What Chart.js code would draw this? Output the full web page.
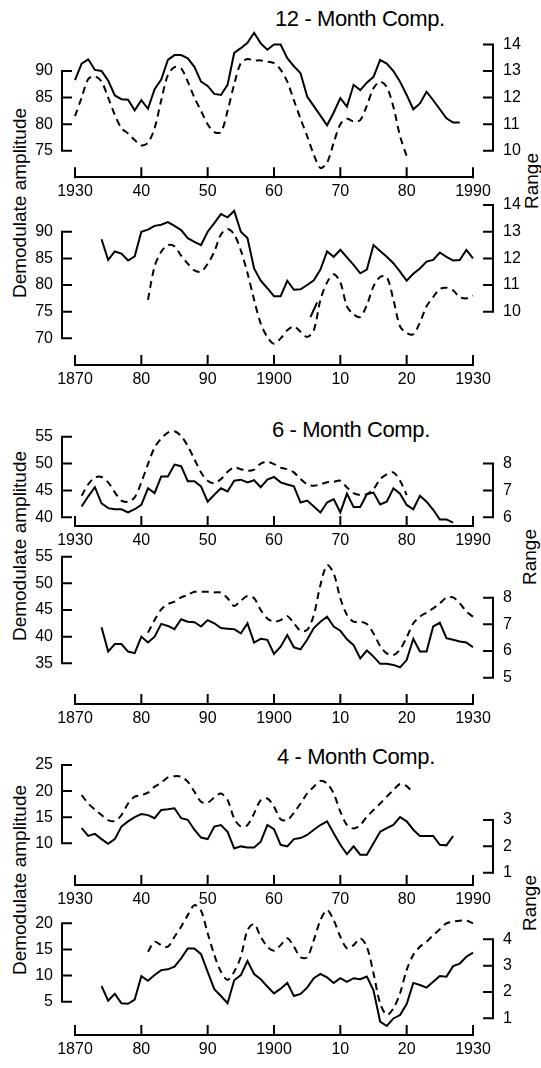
<!DOCTYPE html>
<html lang="en">
<head>
<meta charset="UTF-8">
<title>Demodulate amplitude and range</title>
<script src="https://cdn.jsdelivr.net/npm/chart.js"></script>
<style>
  body { margin: 0; background: #fff; width: 541px; height: 1068px; position: relative; overflow: hidden;
         font-family: 'Liberation Sans', Arial, sans-serif; color: #000; }
  canvas { position: absolute; left: 0; }
  .titulo { position: absolute; font-size: 22px; line-height: 22px; letter-spacing: -0.4px; white-space: nowrap; }
  .rot { position: absolute; font-size: 19px; line-height: 19px; white-space: nowrap;
         transform: translate(-50%, -50%) rotate(-90deg); }
</style>
</head>
<body>

<div class="titulo" style="left:275px; top:8px">12 - Month Comp.</div>
<div class="titulo" style="left:272px; top:419px">6 - Month Comp.</div>
<div class="titulo" style="left:277px; top:746px">4 - Month Comp.</div>

<div class="rot" style="left:19px; top:203px">Demodulate amplitude</div>
<div class="rot" style="left:19px; top:546px">Demodulate amplitude</div>
<div class="rot" style="left:19px; top:880px">Demodulate amplitude</div>
<div class="rot" style="left:531px; top:181px">Range</div>
<div class="rot" style="left:529px; top:557px">Range</div>
<div class="rot" style="left:529px; top:903px">Range</div>

<canvas id="p1" width="541" height="205" style="top:0px"></canvas>
<canvas id="p2" width="541" height="215" style="top:180px"></canvas>
<canvas id="p3" width="541" height="145" style="top:410px"></canvas>
<canvas id="p4" width="541" height="200" style="top:535px"></canvas>
<canvas id="p5" width="541" height="170" style="top:745px"></canvas>
<canvas id="p6" width="541" height="188" style="top:880px"></canvas>

<script>
// x axis ticks
const xTicksA = [1930, 1940, 1950, 1960, 1970, 1980, 1990];
const xLabelsA = ['1930', '40', '50', '60', '70', '80', '1990'];
const xTicksB = [1870, 1880, 1890, 1900, 1910, 1920, 1930];
const xLabelsB = ['1870', '80', '90', '1900', '10', '20', '1930'];

// 12-month component, 1930-1988 (solid, amplitude) and 1930-1980 (dashed, range)
const amp12a = [88.3, 91.4, 92.2, 90.2, 90.0, 88.2, 85.4, 84.7, 84.6, 82.6, 84.5, 82.9, 86.6, 88.4, 92.1,
  93.0, 93.0, 92.4, 90.8, 88.0, 87.2, 85.7, 85.5, 87.4, 93.4, 94.3, 95.3, 97.2, 95.2, 94.0, 95.0, 95.0,
  92.4, 90.9, 89.6, 85.2, 83.4, 81.6, 79.8, 82.2, 84.9, 83.3, 87.4, 86.4, 87.8, 88.9, 92.1, 91.4, 90.0,
  88.0, 85.5, 82.8, 83.9, 86.1, 84.5, 82.8, 81.1, 80.3, 80.3];
const rng12a = [11.3, 12.0, 12.7, 12.8, 12.6, 12.0, 11.35, 10.85, 10.65, 10.4, 10.2, 10.3, 10.85, 11.9,
  12.85, 13.15, 13.1, 12.6, 12.0, 11.5, 11.0, 10.7, 10.7, 11.5, 12.5, 13.3, 13.45, 13.4, 13.4, 13.35, 13.3,
  13.05, 12.6, 11.9, 11.2, 10.55, 9.85, 9.35, 9.55, 10.3, 11.0, 11.2, 11.1, 11.15, 11.7, 12.35, 12.6, 12.4,
  11.65, 10.55, 9.8];

// 12-month component, 1874-1930 and 1881-1930
const amp12b = [88.6, 84.7, 86.3, 85.9, 84.6, 85.4, 90.0, 90.4, 91.1, 91.3, 91.8, 91.1, 90.3, 88.8, 88.1,
  87.5, 90.0, 91.6, 93.3, 92.7, 93.9, 90.0, 88.8, 83.1, 80.8, 79.4, 77.9, 77.9, 80.8, 79.1, 79.2, 80.0, 80.9,
  82.9, 86.3, 85.3, 86.6, 85.2, 83.8, 82.2, 82.9, 87.5, 86.4, 85.3, 84.1, 82.5, 80.8, 82.1, 83.1, 84.4, 84.7,
  86.1, 85.3, 84.6, 84.7, 86.6, 85.0];
const rng12b = [10.45, 11.7, 12.25, 12.5, 12.45, 12.1, 11.8, 11.55, 11.5, 11.8, 12.25, 12.9, 13.1, 12.9,
  12.3, 11.45, 10.45, 9.55, 9.05, 8.8, 9.0, 9.3, 9.45, 9.25, 9.05, 9.3, 10.45, 11.1, 11.4, 11.1, 10.2, 9.9,
  9.8, 10.25, 10.95, 11.3, 11.3, 10.45, 9.45, 9.2, 9.15, 9.6, 10.2, 10.55, 10.85, 10.9, 10.8, 10.55, 10.5, 10.6];
const rng12bPieceYears = [1905.5, 1906.5];
const rng12bPiece = [9.8, 10.35];

// 6-month component, 1931-1987 and 1931-1980
const amp6a = [42.0, 43.9, 45.6, 42.6, 41.7, 41.5, 41.5, 40.9, 41.5, 42.3, 45.4, 44.5, 47.6, 47.6, 49.8,
  49.5, 46.7, 46.7, 45.75, 42.9, 44.2, 45.4, 44.8, 46.8, 47.0, 46.5, 46.9, 45.6, 47.0, 47.5, 46.5, 46.1,
  45.75, 42.75, 43.1, 42.0, 40.9, 42.75, 43.4, 40.9, 44.4, 41.9, 41.9, 44.3, 44.6, 42.4, 42.9, 45.4, 44.4,
  42.3, 41.5, 44.0, 42.9, 41.4, 39.6, 39.6, 39.0];
const rng6a = [6.8, 7.23, 7.48, 7.5, 7.3, 6.93, 6.62, 6.58, 6.74, 7.3, 7.98, 8.6, 8.93, 9.15, 9.2, 9.02,
  8.65, 8.16, 7.67, 7.36, 7.27, 7.42, 7.69, 7.85, 7.79, 7.73, 7.77, 8.0, 8.06, 7.98, 7.85, 7.79, 7.67, 7.42,
  7.23, 7.17, 7.23, 7.3, 7.32, 7.36, 7.11, 6.9, 6.83, 6.86, 7.05, 7.42, 7.6, 7.67, 7.36, 6.83];

// 6-month component, 1874-1930 and 1881-1930
const amp6b = [41.75, 37.2, 38.6, 38.6, 37.2, 36.9, 40.0, 38.9, 40.0, 42.4, 42.0, 41.4, 43.25, 42.8, 42.7,
  41.9, 43.1, 42.5, 41.6, 41.5, 41.4, 40.6, 42.5, 38.9, 39.6, 39.4, 36.75, 38.1, 40.3, 38.0, 37.6, 39.4,
  41.6, 42.8, 43.75, 41.9, 41.1, 39.5, 38.4, 35.9, 37.4, 36.25, 34.9, 34.9, 34.7, 34.25, 35.6, 39.6, 37.2,
  37.2, 41.9, 42.6, 39.7, 39.4, 39.1, 38.9, 38.0];
const rng6b = [6.69, 7.16, 7.56, 7.76, 7.85, 8.01, 8.1, 8.22, 8.22, 8.22, 8.2, 8.19, 7.98, 7.69, 7.89,
  8.06, 7.98, 7.54, 7.22, 7.1, 7.16, 7.31, 7.04, 6.76, 6.79, 7.35, 8.48, 9.22, 8.91, 7.98, 7.35, 7.1, 7.1,
  7.01, 6.66, 6.19, 5.91, 5.85, 6.06, 6.51, 7.04, 7.29, 7.44, 7.6, 7.79, 8.0, 8.01, 7.79, 7.48, 7.29];

// 4-month component, 1931-1987 and 1931-1981
const amp4a = [12.9, 11.4, 11.8, 10.8, 9.9, 10.8, 13.2, 14.2, 15.0, 15.6, 15.4, 14.8, 16.4, 16.5, 16.7,
  14.8, 14.5, 12.6, 11.1, 10.8, 13.2, 13.5, 12.2, 9.0, 9.4, 9.2, 9.2, 10.3, 13.5, 12.7, 9.7, 9.4, 10.8,
  11.0, 11.6, 12.6, 13.5, 14.2, 11.9, 9.7, 7.9, 9.4, 7.8, 7.8, 10.0, 12.2, 12.9, 13.5, 15.0, 14.2, 12.6,
  11.4, 11.4, 11.4, 9.7, 9.6, 11.4];
const rng4a = [3.95, 3.63, 3.4, 3.19, 3.0, 2.96, 3.19, 3.63, 3.89, 3.95, 4.04, 4.27, 4.42, 4.62, 4.67,
  4.65, 4.46, 4.08, 3.7, 3.66, 3.86, 4.01, 3.76, 3.06, 2.75, 2.81, 3.25, 3.76, 3.82, 3.51, 3.03, 3.0, 3.28,
  3.63, 4.01, 4.27, 4.49, 4.39, 4.01, 3.32, 2.81, 2.68, 2.81, 3.13, 3.38, 3.63, 3.89, 4.14, 4.37, 4.29, 4.01];

// 4-month component, 1874-1930 and 1881-1930
const amp4b = [8.0, 5.2, 6.5, 4.7, 4.6, 5.4, 9.9, 9.0, 10.1, 11.05, 11.2, 11.7, 13.3, 15.2, 15.2, 14.1,
  10.7, 7.4, 6.1, 4.7, 9.1, 10.1, 12.8, 10.3, 9.3, 7.9, 6.6, 7.5, 8.6, 6.1, 6.5, 7.7, 9.5, 10.3, 9.65, 8.6,
  9.5, 8.8, 9.5, 9.3, 9.8, 7.2, 1.2, 0.35, 1.8, 2.45, 4.55, 8.6, 8.2, 7.7, 8.8, 9.9, 9.8, 11.8, 12.3, 13.6, 14.4];
const rng4b = [3.53, 3.91, 3.78, 3.72, 4.1, 4.48, 4.92, 5.3, 5.09, 4.23, 3.41, 2.77, 2.46, 2.77, 3.34,
  4.35, 4.58, 4.1, 3.72, 3.57, 3.78, 4.04, 3.72, 3.32, 3.32, 3.97, 4.73, 5.11, 4.73, 4.1, 3.66, 3.78, 4.04,
  3.72, 2.71, 1.57, 1.13, 1.38, 1.95, 2.84, 3.41, 3.72, 3.91, 4.16, 4.38, 4.61, 4.67, 4.71, 4.71, 4.61];

// axis tick values
const ampTicks12a = [75, 80, 85, 90];
const ampTicks12b = [70, 75, 80, 85, 90];
const rngTicks12 = [10, 11, 12, 13, 14];
const ampTicks6a = [40, 45, 50, 55];
const ampTicks6b = [35, 40, 45, 50, 55];
const rngTicks6a = [6, 7, 8];
const rngTicks6b = [5, 6, 7, 8];
const ampTicks4a = [10, 15, 20, 25];
const ampTicks4b = [5, 10, 15, 20];
const rngTicks4a = [1, 2, 3];
const rngTicks4b = [1, 2, 3, 4];

Chart.defaults.font.family = "'Liberation Sans', Arial, sans-serif";
Chart.defaults.font.size = 16;
Chart.defaults.color = '#000';

function pontos(inicio, valores) {
    return valores.map(function (v, i) { return { x: inicio + i, y: v }; });
}

// bracket style axes: vertical line between first and last tick, tick marks pointing inwards
const colchetes = {
    id: 'colchetes',
    afterDraw(chart) {
        const ctx = chart.ctx;
        const area = chart.chartArea;
        ctx.save();
        ctx.strokeStyle = '#000';
        ctx.lineWidth = 2;
        ctx.lineCap = 'square';

        function lado(scale, xPos, dir) {
            const ys = scale.ticks.map(t => scale.getPixelForValue(t.value));
            ctx.beginPath();
            ctx.moveTo(xPos, Math.min(...ys));
            ctx.lineTo(xPos, Math.max(...ys));
            ys.forEach(function (y) {
                ctx.moveTo(xPos, y);
                ctx.lineTo(xPos + dir * 9, y);
            });
            ctx.stroke();
        }
        lado(chart.scales.yL, area.left - 13, 1);
        lado(chart.scales.yR, area.right + 20, -1);

        const sx = chart.scales.x;
        ctx.beginPath();
        sx.ticks.forEach(function (t) {
            const x = sx.getPixelForValue(t.value);
            ctx.moveTo(x, area.bottom);
            ctx.lineTo(x, area.bottom - 9);
        });
        ctx.stroke();
        ctx.restore();
    }
};

// invisible tick marks only push the labels away from the plot
function espaco(len) {
    return { display: true, drawOnChartArea: false, drawTicks: true, tickLength: len, color: 'rgba(0,0,0,0)' };
}

function painel(id, cfg) {
    const datasets = [
        {
            data: pontos(cfg.ampStart, cfg.amp),
            yAxisID: 'yL',
            borderColor: '#000',
            borderWidth: 2,
            pointRadius: 0,
            tension: 0,
            clip: false
        },
        {
            data: pontos(cfg.rngStart, cfg.rng),
            yAxisID: 'yR',
            borderColor: '#000',
            borderWidth: 2,
            borderDash: [7, 5],
            pointRadius: 0,
            tension: 0.3,
            clip: false
        }
    ];
    if (cfg.extra) {
        datasets.push({
            data: cfg.extra,
            yAxisID: 'yR',
            borderColor: '#000',
            borderWidth: 2,
            pointRadius: 0,
            clip: false
        });
    }

    return new Chart(document.getElementById(id), {
        type: 'line',
        data: { datasets: datasets },
        options: {
            responsive: false,
            animation: false,
            devicePixelRatio: 1,
            events: [],
            layout: { padding: { top: cfg.padTop, left: 0, right: 0, bottom: 0 } },
            plugins: { legend: { display: false }, tooltip: { enabled: false } },
            scales: {
                x: {
                    type: 'linear',
                    min: cfg.xTicks[0],
                    max: cfg.xTicks[cfg.xTicks.length - 1],
                    afterBuildTicks: s => { s.ticks = cfg.xTicks.map(v => ({ value: v })); },
                    afterFit: s => { s.height = cfg.xH; },
                    ticks: {
                        autoSkip: false,
                        maxRotation: 0,
                        padding: 0,
                        callback: v => cfg.xLabels[cfg.xTicks.indexOf(v)]
                    },
                    grid: espaco(5),
                    border: { display: true, color: '#000', width: 2 }
                },
                yL: {
                    type: 'linear',
                    position: 'left',
                    min: cfg.yL[0],
                    max: cfg.yL[1],
                    afterBuildTicks: s => { s.ticks = cfg.ampTicks.map(v => ({ value: v })); },
                    afterFit: s => { s.width = 75; },
                    ticks: { padding: 0, autoSkip: false },
                    grid: espaco(22),
                    border: { display: false }
                },
                yR: {
                    type: 'linear',
                    position: 'right',
                    min: cfg.yR[0],
                    max: cfg.yR[1],
                    afterBuildTicks: s => { s.ticks = cfg.rngTicks.map(v => ({ value: v })); },
                    afterFit: s => { s.width = 68; },
                    ticks: { padding: 0, autoSkip: false },
                    grid: espaco(30),
                    border: { display: false }
                }
            }
        },
        plugins: [colchetes]
    });
}

painel('p1', { amp: amp12a, ampStart: 1930, rng: rng12a, rngStart: 1930,
    xTicks: xTicksA, xLabels: xLabelsA, ampTicks: ampTicks12a, rngTicks: rngTicks12,
    yL: [70, 98], yR: [9, 14.6], padTop: 28.5, xH: 27.7 });

painel('p2', { amp: amp12b, ampStart: 1874, rng: rng12b, rngStart: 1881,
    extra: rng12bPieceYears.map((x, i) => ({ x: x, y: rng12bPiece[i] })),
    xTicks: xTicksB, xLabels: xLabelsB, ampTicks: ampTicks12b, rngTicks: rngTicks12,
    yL: [65, 97], yR: [8, 14.4], padTop: 14.4, xH: 30 });

painel('p3', { amp: amp6a, ampStart: 1931, rng: rng6a, rngStart: 1931,
    xTicks: xTicksA, xLabels: xLabelsA, ampTicks: ampTicks6a, rngTicks: rngTicks6a,
    yL: [38.38, 57], yR: [5.676, 9.4], padTop: 15.9, xH: 29 });

painel('p4', { amp: amp6b, ampStart: 1874, rng: rng6b, rngStart: 1881,
    xTicks: xTicksB, xLabels: xLabelsB, ampTicks: ampTicks6b, rngTicks: rngTicks6b,
    yL: [27.37, 56], yR: [4.014, 9.74], padTop: 16.3, xH: 31 });

painel('p5', { amp: amp4a, ampStart: 1931, rng: rng4a, rngStart: 1931,
    xTicks: xTicksA, xLabels: xLabelsA, ampTicks: ampTicks4a, rngTicks: rngTicks4a,
    yL: [2, 26], yR: [0.53, 5.292], padTop: 14.8, xH: 30 });

painel('p6', { amp: amp4b, ampStart: 1874, rng: rng4b, rngStart: 1881,
    xTicks: xTicksB, xLabels: xLabelsB, ampTicks: ampTicks4b, rngTicks: rngTicks4b,
    yL: [-1.37, 25], yR: [0.367, 5.6], padTop: 17.2, xH: 33 });
</script>
</body>
</html>
